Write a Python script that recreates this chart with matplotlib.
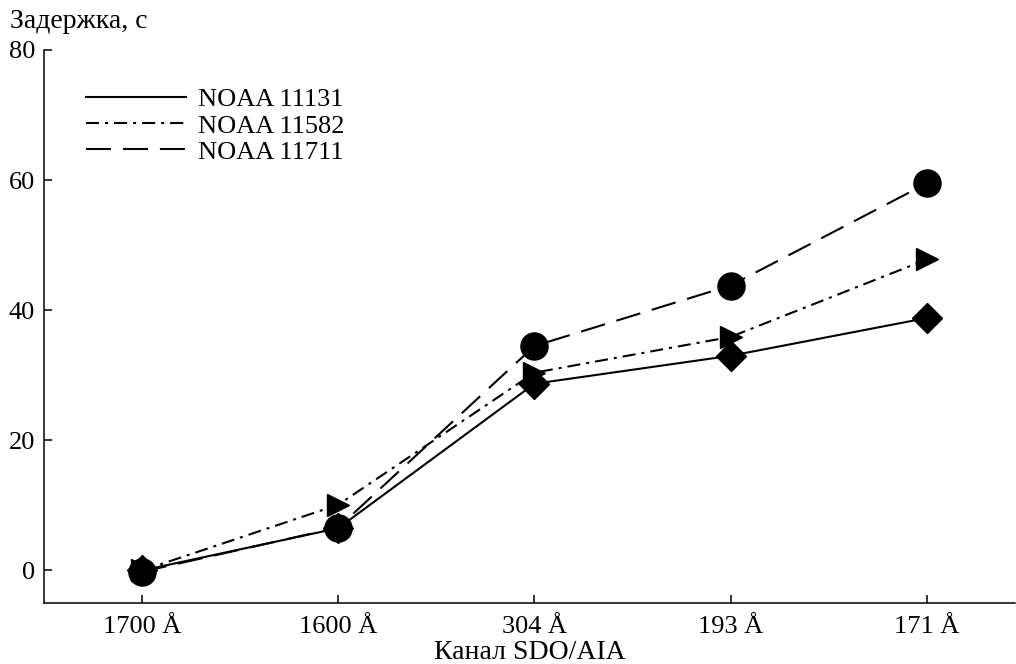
import matplotlib
matplotlib.use("Agg")
import matplotlib.pyplot as plt
import numpy as np

channels = ["1700 Å", "1600 Å", "304 Å", "193 Å", "171 Å"]
noaa_11131 = [0.0, 6.5, 28.7, 33.0, 38.8]
noaa_11582 = [0.0, 10.1, 30.4, 35.9, 47.8]
noaa_11711 = [-0.2, 6.6, 34.5, 43.8, 59.5]
y_ticks = [0, 20, 40, 60, 80]

plt.rcParams['font.family'] = ['Liberation Serif', 'DejaVu Serif']
plt.rcParams['font.size'] = 19
plt.rcParams['lines.scale_dashes'] = False


def main():
    fig = plt.figure(figsize=(10.16, 6.64), dpi=100)
    ax = fig.add_axes([44 / 1016, 1 - 603 / 664, (1015 - 44) / 1016, (603 - 50) / 664])
    x = np.arange(len(channels))

    lw = 1.5
    ax.plot(x, noaa_11131, color='black', lw=lw, ls='-', label='NOAA 11131', zorder=3)
    ax.plot(x, noaa_11582, color='black', lw=lw, dashes=(9.4, 4.3, 2.2, 4.3),
            label='NOAA 11582', zorder=2)
    ax.plot(x, noaa_11711, color='black', lw=lw, dashes=(18, 8.6),
            label='NOAA 11711', zorder=4)

    ax.plot(x, noaa_11582, ls='none', marker='>', ms=16, color='black', zorder=5)
    ax.plot(x, noaa_11131, ls='none', marker='D', ms=15.5, color='black', zorder=6)
    ax.plot(x, noaa_11711, ls='none', marker='o', ms=19.5, color='black', zorder=7)

    ax.set_xlim(-0.5, 4.45)
    ax.set_ylim(-5, 80)
    ax.set_xticks(x)
    ax.set_xticklabels(channels)
    ax.set_yticks(y_ticks)
    ax.tick_params(direction='in', length=6, width=1.1, color='black')
    ax.tick_params(axis='y', pad=6.5)
    ax.tick_params(axis='x', pad=9.5)
    for side in ('top', 'right'):
        ax.spines[side].set_visible(False)
    for side in ('left', 'bottom'):
        ax.spines[side].set_linewidth(1.1)

    ax.set_xlabel('Канал SDO/AIA', fontsize=20, labelpad=1)
    fig.text(10 / 1016, 1 - 28 / 664, 'Задержка, с', va='baseline', ha='left',
             fontsize=20)

    ax.legend(loc='upper left', bbox_to_anchor=(86 / 1016, 1 - 88 / 664),
              bbox_transform=fig.transFigure, frameon=False, borderpad=0,
              borderaxespad=0, handlelength=3.8, handletextpad=0.45,
              labelspacing=0.1)

    fig.savefig('out.png', dpi=100)


if __name__ == "__main__":
    main()
